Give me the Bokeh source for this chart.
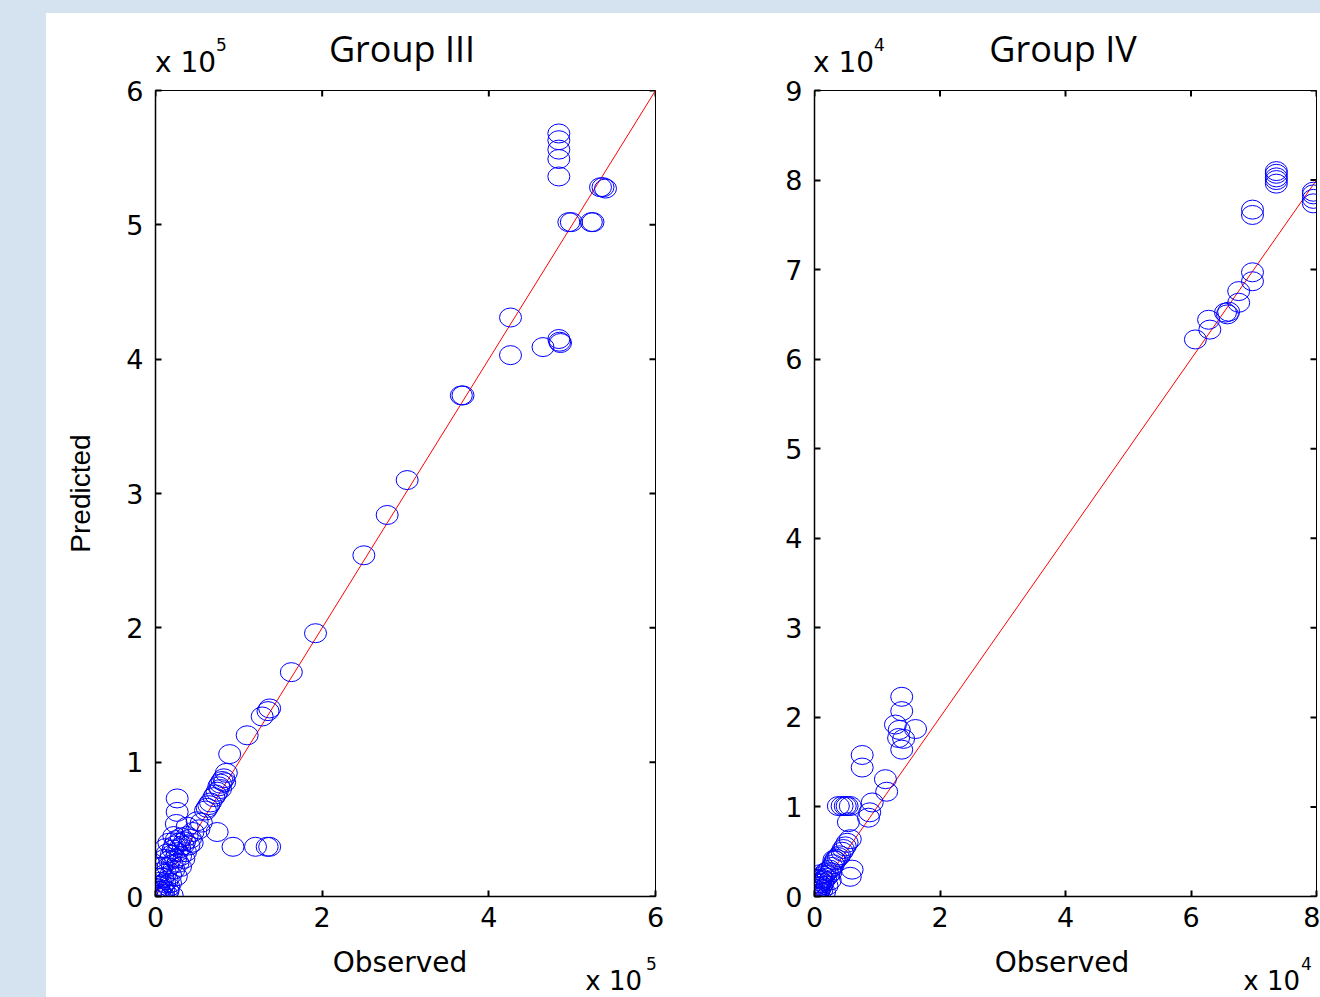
import math
from bokeh.plotting import figure
from bokeh.models import Range1d, FixedTicker, Div
from bokeh.layouts import row, column
from bokeh.embed import file_html
from bokeh.resources import INLINE

# ---------------- data ----------------
# Group III, values in units of 1e5
g3_obs = [4.84, 4.84, 4.84, 4.84, 4.84, 5.34, 5.37, 5.40, 4.96, 4.99, 5.23, 5.25,
          4.26, 4.26, 4.65, 4.84, 4.85, 4.86, 3.67, 3.69, 3.02, 2.78, 2.50, 1.92, 1.63,
          1.28, 1.35, 1.37, 1.10, 0.89, 0.85, 0.82, 0.80, 0.78, 0.76, 0.83, 0.74, 0.72,
          0.70, 0.78, 0.64, 0.62, 0.66, 0.60, 0.74, 0.93, 1.20, 1.34, 1.37,
          0.26, 0.26, 0.25, 0.38, 0.50, 0.45, 0.55, 0.52,
          0.00, 0.01, 0.02, 0.03, 0.04, 0.05, 0.06, 0.07, 0.08, 0.09, 0.10, 0.11, 0.12,
          0.13, 0.14, 0.15, 0.16, 0.17, 0.18, 0.19, 0.20, 0.20, 0.21, 0.22, 0.23, 0.24,
          0.25, 0.26, 0.27, 0.28, 0.29, 0.30, 0.31, 0.33, 0.35, 0.36, 0.38, 0.40, 0.42,
          0.44, 0.02, 0.05, 0.08, 0.11, 0.14, 0.03, 0.10, 0.15, 0.06, 0.16, 0.22, 0.12,
          0.18, 0.25, 0.30, 0.34]
g3_pred = [5.68, 5.63, 5.56, 5.49, 5.36, 5.28, 5.28, 5.27, 5.02, 5.02, 5.02, 5.02,
           4.31, 4.03, 4.09, 4.15, 4.13, 4.12, 3.73, 3.73, 3.10, 2.84, 2.54, 1.96, 1.67,
           1.34, 1.38, 1.40, 1.20, 1.06, 0.92, 0.88, 0.86, 0.84, 0.82, 0.85, 0.78, 0.76,
           0.74, 0.80, 0.68, 0.66, 0.70, 0.64, 0.48, 0.37, 0.37, 0.37, 0.37,
           0.73, 0.63, 0.54, 0.52, 0.56, 0.48, 0.55, 0.50,
           0.00, 0.03, 0.06, 0.01, 0.08, 0.04, 0.11, 0.02, 0.07, 0.14, 0.05, 0.10, 0.17,
           0.02, 0.12, 0.22, 0.07, 0.27, 0.16, 0.31, 0.01, 0.24, 0.35, 0.20, 0.38, 0.28,
           0.42, 0.33, 0.25, 0.40, 0.36, 0.30, 0.44, 0.38, 0.41, 0.33, 0.45, 0.38, 0.43,
           0.40, 0.14, 0.18, 0.22, 0.28, 0.32, 0.22, 0.00, 0.04, -0.01, 0.40, 0.45, 0.36,
           0.10, 0.15, 0.22, 0.28]
g3_fit = [0, 6]

# Group IV, values in units of 1e4
g4_obs = [7.36, 7.36, 7.36, 7.36, 7.36, 7.95, 7.95, 7.95, 7.95, 6.98, 6.98, 6.98, 6.98,
          6.76, 6.76, 6.55, 6.58, 6.60, 6.28, 6.30, 6.07,
          1.39, 1.39, 1.29, 1.61, 1.35, 1.34, 1.42, 1.39, 0.76, 0.76, 1.13, 1.15,
          0.92, 0.88, 0.86, 0.38, 0.44, 0.52, 0.57, 0.49, 0.54,
          0.57, 0.52, 0.49, 0.46, 0.44, 0.40, 0.38, 0.35, 0.33, 0.31, 0.60, 0.57,
          0.00, 0.01, 0.02, 0.03, 0.04, 0.05, 0.06, 0.07, 0.08, 0.09, 0.10, 0.11, 0.12,
          0.13, 0.14, 0.15, 0.17, 0.18, 0.20, 0.22, 0.24, 0.26, 0.05, 0.08, 0.03, 0.12,
          0.16, 0.20, 0.25, 0.02, 0.10, 0.28, 0.30]
g4_pred = [8.10, 8.07, 8.03, 8.00, 7.96, 7.87, 7.84, 7.79, 7.74, 7.67, 7.61, 6.97, 6.87,
           6.76, 6.63, 6.52, 6.50, 6.53, 6.44, 6.33, 6.22,
           2.23, 2.07, 1.92, 1.87, 1.86, 1.77, 1.76, 1.64, 1.58, 1.44, 1.31, 1.17,
           1.05, 0.94, 0.88, 1.01, 1.01, 1.01, 1.01, 1.01, 0.83,
           0.64, 0.60, 0.56, 0.53, 0.50, 0.46, 0.44, 0.42, 0.40, 0.41, 0.30, 0.22,
           0.00, 0.02, 0.05, 0.01, 0.08, 0.03, 0.11, 0.06, 0.14, 0.09, 0.17, 0.12, 0.20,
           0.15, 0.23, 0.18, 0.26, 0.21, 0.28, 0.24, 0.30, 0.27, 0.15, 0.19, 0.12, 0.08,
           0.05, 0.12, 0.18, 0.20, 0.25, 0.33, 0.36]
g4_fit = [0, 8]

g3_xticks = [0, 2, 4, 6]
g3_yticks = [0, 1, 2, 3, 4, 5, 6]
g4_xticks = [0, 2, 4, 6, 8]
g4_yticks = [0, 1, 2, 3, 4, 5, 6, 7, 8, 9]

titles = ["Group III", "Group IV"]
exponents = ["5", "4"]
x_label = "Observed"
y_label = "Predicted"

BG = "#d5e2f0"
HFONT = "DejaVu Sans"
FRAME_H = 806
TOP_B, BOT_B = 15, 45
HEAD_H, FOOT_H = 62, 56


def style_axis(ax):
    ax.axis_line_color = "black"
    ax.axis_line_width = 1.5
    ax.major_tick_in = 6
    ax.major_tick_out = 0
    ax.major_tick_line_color = "black"
    ax.major_tick_line_width = 2
    ax.minor_tick_line_color = None
    ax.major_label_text_font = HFONT
    ax.major_label_text_font_size = "27px"
    ax.major_label_text_color = "black"


def make_panel(obs, pred, fit, xticks, yticks, width, bl, br, ylabel):
    xmax, ymax = xticks[-1], yticks[-1]
    p = figure(width=width, height=TOP_B + FRAME_H + BOT_B, title=None,
               x_range=Range1d(0, xmax), y_range=Range1d(0, ymax),
               output_backend="svg", toolbar_location=None, margin=0,
               min_border_left=bl, min_border_right=br,
               min_border_top=TOP_B, min_border_bottom=BOT_B,
               background_fill_color="white", border_fill_color="white",
               outline_line_color="black", outline_line_width=1)
    p.grid.visible = False
    p.xaxis.ticker = FixedTicker(ticks=xticks)
    p.yaxis.ticker = FixedTicker(ticks=yticks)
    style_axis(p.xaxis[0])
    style_axis(p.yaxis[0])
    p.xaxis.major_label_standoff = 10
    p.yaxis.major_label_standoff = 12
    if ylabel:
        p.yaxis.axis_label = ylabel
        p.yaxis.axis_label_text_font = "Liberation Sans"
        p.yaxis.axis_label_text_font_size = "28px"
        p.yaxis.axis_label_text_font_style = "normal"
        p.yaxis.axis_label_text_color = "black"
        p.yaxis.axis_label_standoff = 27

    # inward ticks on the top and right edges (markers are clipped to the frame)
    p.scatter(x=xticks, y=[ymax] * len(xticks), marker="dash", size=12, angle=math.pi / 2,
              line_color="black", line_width=2)
    p.scatter(x=[xmax] * len(yticks), y=yticks, marker="dash", size=12,
              line_color="black", line_width=2)

    p.line(x=fit, y=fit, line_color="red", line_width=1)
    p.ellipse(x=obs, y=pred, width=22, height=19, width_units="screen", height_units="screen",
              fill_color=None, line_color="blue", line_width=1)
    return p


def span(text, font, size, top, left=None, right=None, center=False, lh=1.0):
    st = (f"position:absolute;display:block;top:{top}px;font-family:'{font}';font-size:{size}px;"
          f"line-height:{lh};white-space:nowrap;color:black;margin:0;padding:0;")
    if center:
        st += f"left:{left}px;transform:translateX(-50%);"
    elif right is not None:
        st += f"right:{right}px;"
    else:
        st += f"left:{left}px;"
    return f'<span style="{st}">{text}</span>'


def box(inner, w, h):
    return Div(text=f'<div style="position:relative;width:{w}px;height:{h}px;">{inner}</div>',
               width=w, height=h, margin=0, styles={"background-color": "white"})


WL, WA, WB = 46, 649, 625
TOP_STRIP = 13

pA = make_panel(g3_obs, g3_pred, g3_fit, g3_xticks, g3_yticks, WA, 109, 40, y_label)
pB = make_panel(g4_obs, g4_pred, g4_fit, g4_xticks, g4_yticks, WB, 119, 4, None)

headA = box(span(titles[0], "Open Sans", 36, 18, left=356, center=True)
            + span("x 10", HFONT, 28, 39, left=109, lh=0.8)
            + span(exponents[0], HFONT, 17, 24, left=170), WA, HEAD_H)
headB = box(span(titles[1], "Open Sans", 36, 18, left=368, center=True)
            + span("x 10", HFONT, 28, 39, left=118, lh=0.8)
            + span(exponents[1], HFONT, 17, 24, left=179), WB, HEAD_H)
footA = box(span(x_label, HFONT, 28, 8, left=354, center=True)
            + span("x 10", HFONT, 26, 27, right=53)
            + span(exponents[0], HFONT, 17, 15, left=600), WA, FOOT_H)
footB = box(span(x_label, HFONT, 28, 8, left=367, center=True)
            + span("x 10", HFONT, 26, 27, right=20)
            + span(exponents[1], HFONT, 17, 15, left=606), WB, FOOT_H)

colA = column(headA, pA, footA, spacing=0, margin=0)
colB = column(headB, pB, footB, spacing=0, margin=0)

col_h = HEAD_H + TOP_B + FRAME_H + BOT_B + FOOT_H
top_strip = Div(text="", width=WL + WA + WB, height=TOP_STRIP, margin=0,
                styles={"background-color": BG})
left_strip = Div(text="", width=WL, height=col_h, margin=0, styles={"background-color": BG})

layout = column(top_strip, row(left_strip, colA, colB, spacing=0, margin=0), spacing=0, margin=0)

open("out.html", "w").write(file_html(layout, INLINE))
